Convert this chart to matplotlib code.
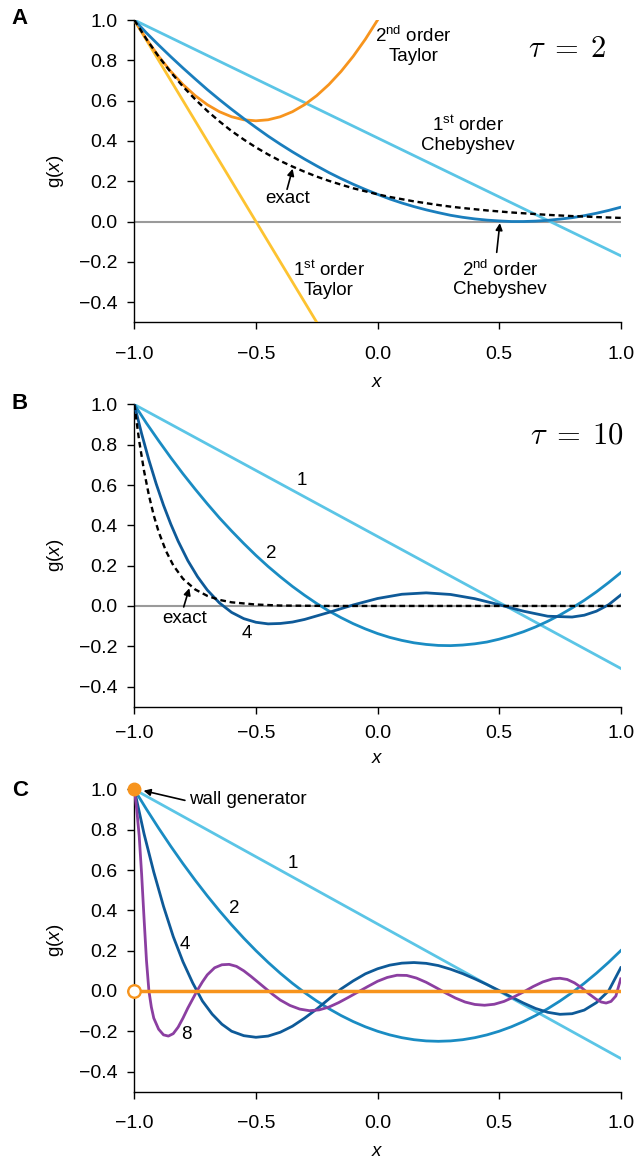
import matplotlib
matplotlib.use('Agg')
import matplotlib.pyplot as plt

plt.rcParams['font.family'] = ['Liberation Sans', 'DejaVu Sans']
plt.rcParams['mathtext.fontset'] = 'custom'
plt.rcParams['mathtext.rm'] = 'Liberation Sans'
plt.rcParams['mathtext.it'] = 'Liberation Sans:italic'
plt.rcParams['mathtext.bf'] = 'Liberation Sans:bold'

# ---------------- data ----------------
xg = [-1.0, -0.95, -0.9, -0.85, -0.8, -0.75, -0.7, -0.65, -0.6, -0.55, -0.5,
      -0.45, -0.4, -0.35, -0.3, -0.25, -0.2, -0.15, -0.1, -0.05, 0.0,
      0.05, 0.1, 0.15, 0.2, 0.25, 0.3, 0.35, 0.4, 0.45, 0.5,
      0.55, 0.6, 0.65, 0.7, 0.75, 0.8, 0.85, 0.9, 0.95, 1.0]

# panel A, tau = 2
a_exact = [1.000, 0.905, 0.819, 0.741, 0.670, 0.607, 0.549, 0.497, 0.449, 0.407, 0.368,
           0.333, 0.301, 0.273, 0.247, 0.223, 0.202, 0.183, 0.165, 0.150, 0.135,
           0.122, 0.111, 0.100, 0.091, 0.082, 0.074, 0.067, 0.061, 0.055, 0.050,
           0.045, 0.041, 0.037, 0.033, 0.030, 0.027, 0.025, 0.022, 0.020, 0.018]
a_cheb2 = [1.000, 0.936, 0.876, 0.818, 0.762, 0.708, 0.655, 0.605, 0.557, 0.511, 0.467,
           0.424, 0.384, 0.346, 0.310, 0.276, 0.243, 0.213, 0.185, 0.159, 0.135,
           0.112, 0.092, 0.074, 0.058, 0.044, 0.031, 0.021, 0.013, 0.007, 0.003,
           0.000, 0.000, 0.002, 0.006, 0.012, 0.019, 0.029, 0.041, 0.055, 0.071]
a_cheb1_x = [-1.0, 1.0]
a_cheb1 = [1.0, -0.17]
a_tay1_x = [-1.0, -0.25]
a_tay1 = [1.0, -0.5]
a_tay2_x = [-1.0, -0.95, -0.9, -0.85, -0.8, -0.75, -0.7, -0.65, -0.6, -0.55, -0.5,
            -0.45, -0.4, -0.35, -0.3, -0.25, -0.2, -0.15, -0.1, -0.05, 0.0]
a_tay2 = [1.000, 0.905, 0.820, 0.745, 0.680, 0.625, 0.580, 0.545, 0.520, 0.505, 0.500,
          0.505, 0.520, 0.545, 0.580, 0.625, 0.680, 0.745, 0.820, 0.905, 1.000]

# panel B, tau = 10
b_exact_x = [-1.0, -0.98, -0.96, -0.94, -0.92, -0.9, -0.87, -0.84, -0.8, -0.75,
             -0.7, -0.65, -0.6, -0.5, -0.4, -0.3, -0.2, 0.0, 0.5, 1.0]
b_exact = [1.000, 0.819, 0.670, 0.549, 0.449, 0.368, 0.273, 0.202, 0.135, 0.082,
           0.050, 0.030, 0.018, 0.007, 0.002, 0.001, 0.0, 0.0, 0.0, 0.0]
b_o1_x = [-1.0, 1.0]
b_o1 = [1.0, -0.31]
b_o2 = [1.000, 0.907, 0.820, 0.736, 0.656, 0.580, 0.507, 0.437, 0.372, 0.310, 0.251,
        0.196, 0.145, 0.097, 0.053, 0.012, -0.025, -0.058, -0.088, -0.114, -0.137,
        -0.156, -0.171, -0.183, -0.191, -0.196, -0.197, -0.194, -0.188, -0.179, -0.165,
        -0.148, -0.128, -0.104, -0.076, -0.045, -0.010, 0.028, 0.070, 0.116, 0.165]
b_o4_x = [-1.0, -0.97, -0.94, -0.91, -0.88, -0.85, -0.82, -0.78, -0.74, -0.7, -0.65,
          -0.6, -0.55, -0.5, -0.45, -0.4, -0.35, -0.3, -0.2, -0.1, 0.0, 0.1, 0.2,
          0.3, 0.4, 0.5, 0.6, 0.7, 0.8, 0.85, 0.9, 0.95, 1.0]
b_o4 = [1.000, 0.855, 0.724, 0.606, 0.500, 0.406, 0.322, 0.225, 0.145, 0.079, 0.015,
        -0.032, -0.063, -0.081, -0.089, -0.087, -0.080, -0.067, -0.032, 0.005, 0.037,
        0.058, 0.065, 0.057, 0.036, 0.006, -0.026, -0.051, -0.055, -0.046, -0.026,
        0.006, 0.054]

# panel C, wall generator
c_o1_x = [-1.0, 1.0]
c_o1 = [1.0, -0.335]
c_o2 = [1.000, 0.902, 0.808, 0.718, 0.632, 0.550, 0.472, 0.398, 0.328, 0.262, 0.200,
        0.142, 0.088, 0.038, -0.008, -0.050, -0.088, -0.122, -0.152, -0.178, -0.200,
        -0.218, -0.232, -0.242, -0.248, -0.250, -0.248, -0.242, -0.232, -0.218, -0.200,
        -0.178, -0.152, -0.122, -0.088, -0.050, -0.008, 0.038, 0.088, 0.142, 0.200]
c_o4_x = [-1.0, -0.96, -0.92, -0.88, -0.84, -0.8, -0.76, -0.72, -0.68, -0.64, -0.6,
          -0.55, -0.5, -0.45, -0.4, -0.35, -0.3, -0.25, -0.2, -0.15, -0.1, -0.05,
          0.0, 0.05, 0.1, 0.15, 0.2, 0.25, 0.3, 0.35, 0.4, 0.45, 0.5, 0.55, 0.6,
          0.65, 0.7, 0.75, 0.8, 0.85, 0.9, 0.95, 1.0]
c_o4 = [1.0, 0.78, 0.59, 0.42, 0.27, 0.145, 0.04, -0.05, -0.115, -0.165, -0.20,
        -0.222, -0.23, -0.224, -0.205, -0.175, -0.135, -0.09, -0.04, 0.01, 0.05, 0.085,
        0.11, 0.128, 0.138, 0.141, 0.137, 0.126, 0.108, 0.086, 0.06, 0.032, 0.002,
        -0.03, -0.06, -0.087, -0.106, -0.116, -0.113, -0.095, -0.058, 0.0, 0.115]
c_o8_x = [-1.0, -0.99, -0.98, -0.97, -0.96, -0.95, -0.94, -0.93, -0.92, -0.9, -0.88,
          -0.86, -0.84, -0.82, -0.8, -0.78, -0.76, -0.74, -0.72, -0.7, -0.67, -0.64,
          -0.61, -0.58, -0.55, -0.52, -0.49, -0.46, -0.43, -0.4, -0.36, -0.32, -0.28,
          -0.24, -0.2, -0.16, -0.12, -0.08, -0.04, 0.0, 0.04, 0.08, 0.12, 0.16, 0.2,
          0.24, 0.28, 0.32, 0.36, 0.4, 0.44, 0.48, 0.52, 0.56, 0.6, 0.64, 0.68, 0.72,
          0.75, 0.78, 0.81, 0.84, 0.87, 0.9, 0.92, 0.94, 0.96, 0.98, 1.0]
c_o8 = [1.0, 0.90, 0.77, 0.58, 0.36, 0.15, 0.0, -0.08, -0.135, -0.19, -0.218,
        -0.224, -0.212, -0.18, -0.135, -0.085, -0.04, 0.005, 0.045, 0.08, 0.115, 0.13,
        0.132, 0.122, 0.10, 0.072, 0.042, 0.012, -0.018, -0.045, -0.072, -0.09, -0.098,
        -0.094, -0.08, -0.058, -0.032, -0.005, 0.022, 0.048, 0.067, 0.078, 0.077, 0.064, 0.043,
        0.017, -0.01, -0.035, -0.055, -0.067, -0.071, -0.066, -0.052, -0.03, -0.005, 0.022, 0.045, 0.06,
        0.063, 0.057, 0.04, 0.015, -0.015, -0.042, -0.055, -0.06, -0.052, -0.025, 0.06]
c_wall_x = [-1.0, 1.0]
c_wall = [0.0, 0.0]

xticks = [-1.0, -0.5, 0.0, 0.5, 1.0]
yticks = [-0.4, -0.2, 0.0, 0.2, 0.4, 0.6, 0.8, 1.0]

LIGHT = '#5BC5E6'
MED = '#1A8CC3'
MED_A = '#1A7EBD'
DARK = '#0E5A98'
PURPLE = '#8B3FA1'
ORANGE = '#F7941D'
YELLOW = '#FDC331'
GREY = '#9a9a9a'
LW = 2.0
FS = 13.5


def fmt(v):
    return f'{v:.1f}'.replace('-', '\u2212')


def setup(ax, tickpad):
    ax.set_xlim(-1.0, 1.0)
    ax.set_ylim(-0.5, 1.0)
    ax.spines['top'].set_visible(False)
    ax.spines['right'].set_visible(False)
    ax.spines['left'].set_linewidth(1.0)
    ax.spines['bottom'].set_linewidth(1.0)
    ax.set_xticks(xticks)
    ax.set_xticklabels([fmt(v) for v in xticks])
    ax.set_yticks(yticks)
    ax.set_yticklabels([fmt(v) for v in yticks])
    ax.tick_params(axis='both', labelsize=14, length=5, width=1.0, direction='out')
    ax.tick_params(axis='y', pad=7)
    ax.tick_params(axis='x', pad=tickpad)
    ax.axhline(0, color=GREY, lw=1.5, zorder=1)
    ax.set_ylabel('g($x$)', fontsize=FS)
    ax.yaxis.set_label_coords(-0.14, 0.5)


def arrow(ax, tip, tail):
    ax.annotate('', xy=tip, xytext=tail,
                arrowprops=dict(arrowstyle='-|>', color='black', lw=1.2,
                                mutation_scale=10, shrinkA=0, shrinkB=0))


fig = plt.figure(figsize=(6.36, 11.6), dpi=100)
W = 0.7648
H = 0.2605
axA = fig.add_axes([0.2112, 0.7222, W, H])
axB = fig.add_axes([0.2112, 0.3908, W, H])
axC = fig.add_axes([0.2112, 0.0589, W, H])

dash = (0, (2.4, 1.6))
tau_kw = dict(ha='right', va='center', fontsize=22, math_fontfamily='cm')

# ---- A ----
setup(axA, 12)
axA.plot(a_cheb1_x, a_cheb1, color=LIGHT, lw=LW, zorder=3)
axA.plot(a_tay1_x, a_tay1, color=YELLOW, lw=LW, zorder=3)
axA.plot(a_tay2_x, a_tay2, color=ORANGE, lw=LW, zorder=4)
axA.plot(xg, a_cheb2, color=MED_A, lw=LW, zorder=5)
axA.plot(xg, a_exact, color='black', lw=1.7, ls=dash, zorder=6)
axA.text(0.148, 0.873, '2$^{\\mathrm{nd}}$ order\nTaylor', ha='center', va='center',
         fontsize=FS, linespacing=1.15)
axA.text(0.371, 0.43, '1$^{\\mathrm{st}}$ order\nChebyshev', ha='center', va='center',
         fontsize=FS, linespacing=1.15)
axA.text(0.503, -0.285, '2$^{\\mathrm{nd}}$ order\nChebyshev', ha='center', va='center',
         fontsize=FS, linespacing=1.15)
axA.text(-0.2, -0.29, '1$^{\\mathrm{st}}$ order\nTaylor', ha='center', va='center',
         fontsize=FS, linespacing=1.15)
axA.text(-0.369, 0.114, 'exact', ha='center', va='center', fontsize=FS)
arrow(axA, (-0.349, 0.262), (-0.372, 0.16))
arrow(axA, (0.503, -0.008), (0.49, -0.153))
axA.text(0.943, 0.856, '$\\tau\\;=\\;2$', **tau_kw)
axA.set_xlabel('$x$', fontsize=FS)
axA.xaxis.set_label_coords(0.5, -0.17)

# ---- B ----
setup(axB, 8)
axB.plot(b_o1_x, b_o1, color=LIGHT, lw=LW, zorder=3)
axB.plot(xg, b_o2, color=MED, lw=LW, zorder=4)
axB.plot(b_o4_x, b_o4, color=DARK, lw=LW, zorder=5)
axB.plot(b_exact_x, b_exact, color='black', lw=1.7, ls=dash, zorder=6)
axB.text(-0.312, 0.625, '1', ha='center', va='center', fontsize=FS)
axB.text(-0.435, 0.261, '2', ha='center', va='center', fontsize=FS)
axB.text(-0.538, -0.135, '4', ha='center', va='center', fontsize=FS)
axB.text(-0.792, -0.061, 'exact', ha='center', va='center', fontsize=FS)
arrow(axB, (-0.774, 0.088), (-0.797, -0.005))
axB.text(1.015, 0.848, '$\\tau\\;=\\;10$', **tau_kw)
axB.set_xlabel('$x$', fontsize=FS)
axB.xaxis.set_label_coords(0.5, -0.145)

# ---- C ----
setup(axC, 12)
axC.plot(c_o1_x, c_o1, color=LIGHT, lw=LW, zorder=3)
axC.plot(xg, c_o2, color=MED, lw=LW, zorder=4)
axC.plot(c_o4_x, c_o4, color=DARK, lw=LW, zorder=5)
axC.plot(c_o8_x, c_o8, color=PURPLE, lw=LW, zorder=5)
axC.plot(c_wall_x, c_wall, color=ORANGE, lw=2.5, zorder=6)
axC.plot([c_wall_x[0]], [1.0], marker='o', ms=9, color=ORANGE, zorder=8, clip_on=False)
axC.plot([c_wall_x[0]], [c_wall[0]], marker='o', ms=9, mfc='white', mec=ORANGE, mew=1.7,
         zorder=8, clip_on=False)
axC.text(-0.35, 0.631, '1', ha='center', va='center', fontsize=FS)
axC.text(-0.59, 0.407, '2', ha='center', va='center', fontsize=FS)
axC.text(-0.792, 0.232, '4', ha='center', va='center', fontsize=FS)
axC.text(-0.785, -0.216, '8', ha='center', va='center', fontsize=FS)
axC.text(-0.775, 0.951, 'wall generator', ha='left', va='center', fontsize=FS)
arrow(axC, (-0.962, 0.994), (-0.792, 0.946))
axC.set_xlabel('$x$', fontsize=FS)
axC.xaxis.set_label_coords(0.5, -0.17)

for lab, y in (('A', 18), ('B', 404), ('C', 790)):
    fig.text(20 / 636, 1 - y / 1160, lab, fontsize=16, fontweight='bold',
             ha='center', va='center')

fig.savefig('out.png', dpi=100)
